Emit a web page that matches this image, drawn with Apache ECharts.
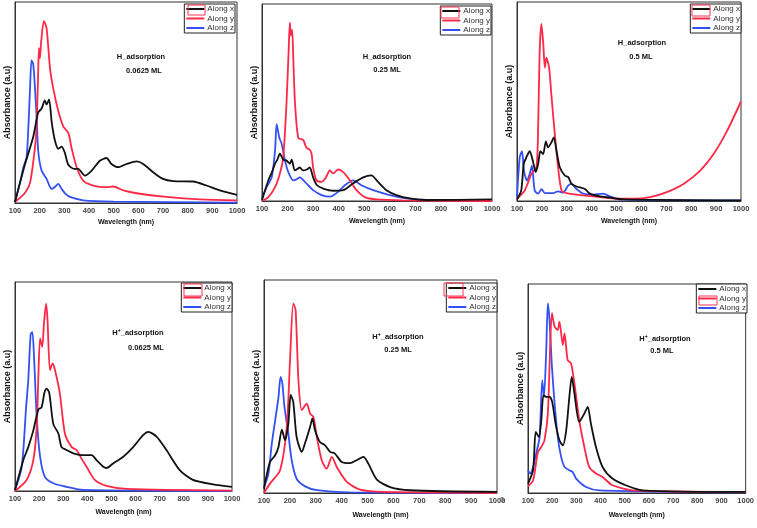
<!DOCTYPE html>
<html><head><meta charset="utf-8">
<script src="https://cdn.jsdelivr.net/npm/echarts/dist/echarts.min.js"></script>
<style>html,body{margin:0;padding:0;background:#fff}#c{width:757px;height:528px}</style>
</head><body><div id="c"></div><script>
// ---- data: [wavelength (nm), absorbance (a.u., 0-100 of panel height)] ----
const seriesNames = ['Along x', 'Along y', 'Along z'];
const xTicks = [100, 200, 300, 400, 500, 600, 700, 800, 900, 1000];
const panelTitles = ['H_adsorption', 'H_adsorption', 'H_adsorption', 'H\u207A_adsorption', 'H\u207A_adsorption', 'H\u207A_adsorption'];
const panelCoverages = ['0.0625 ML', '0.25 ML', '0.5 ML', '0.0625 ML', '0.25 ML', '0.5 ML'];

const h0625_x = [[100,0.5],[140,19],[174,33],[194,45],[208,47],[221,51],[228,49],[238,51.5],[249,40],[262,31],[276,27],[289,28],[302,25],[316,19],[340,17],[356,17],[383,13.6],[410,16],[444,21],[471,22.4],[491,19.4],[518,17.8],[552,19.4],[593,20.7],[620,19.4],[660,15.3],[700,12],[741,10.9],[822,10.7],[876,8.7],[930,6.3],[1000,4]];
const h0625_y = [[100,0.5],[140,5],[161,10],[181,27.6],[186,35],[193,60],[197,77],[201,72],[206,80],[217,90.5],[228,87],[242,67],[255,57],[275,46],[296,38],[316,35],[329,27.6],[350,17.8],[377,11],[417,8.7],[471,7.9],[498,8.2],[539,6.3],[606,4.6],[714,3],[849,1.8],[1000,1.3]];
const h0625_z = [[100,0.5],[120,10],[134,17.8],[147,22.7],[155,40],[161,57],[167,71],[174,69],[181,57],[188,42],[194,26],[208,16],[228,12],[248,7],[262,8],[275,9.5],[289,7],[305,4.5],[323,3],[377,1.3],[500,0.7],[1000,0.2]];

const h025_x = [[100,0.5],[125,10.5],[140,15],[151,19],[160,21],[170,24],[183,21],[196,20.5],[209,19],[216,21],[229,15.5],[248,17],[261,15.5],[275,16],[287,17],[300,12],[315,8],[340,6.3],[379,5.2],[418,5.5],[457,9],[496,12],[528,13],[554,9.7],[587,5.5],[626,3],[678,1.3],[743,0.5],[1000,0.8]];
const h025_y = [[100,0],[125,2],[151,7],[170,14],[183,22],[196,50],[205,79],[209,90.5],[213,84],[218,87],[223,70],[229,50],[242,32],[261,31],[274,27],[287,26],[294,24],[300,17],[313,10.5],[333,9.7],[350,12],[366,15.5],[379,14],[398,16],[418,14.7],[444,10.5],[470,5.5],[502,2],[548,0.8],[650,0.3],[1000,0]];
const h025_z = [[100,1.3],[118,7],[138,12],[151,25.5],[157,39],[162,36],[168,32],[177,29],[190,20.5],[203,14.7],[222,10.5],[235,11],[248,12],[268,9.7],[300,5.5],[333,3],[366,2.2],[398,4.7],[424,8],[457,10.5],[489,8],[535,5.5],[600,3],[665,1.3],[743,0.5],[1000,0.3]];

const h05_x = [[100,0.7],[117,5.3],[127,18.6],[138,22],[151,25],[164,20],[175,14.5],[185,18.6],[194,25],[205,23.6],[216,30],[225,27],[238,29.4],[248,32],[259,25],[272,17],[292,12.8],[306,12],[319,8.6],[339,7.3],[373,6],[393,3.7],[433,2.3],[474,1.7],[527,0.8],[1000,0.3]];
const h05_y = [[100,1.2],[131,5.3],[158,13.6],[178,17],[185,37],[191,75],[198,89],[205,80],[212,67],[218,72],[229,67],[238,53.5],[252,33.5],[265,17],[279,5.3],[299,4],[366,2.8],[433,2],[500,1.2],[568,1.2],[635,2],[702,4.5],[769,8.6],[836,15.3],[890,23.6],[943,35],[1000,50]];
const h05_z = [[100,2],[111,22],[120,25],[128,15.3],[140,10.3],[151,13.6],[160,17.8],[171,5.3],[185,3.7],[198,6],[212,4],[245,4],[265,4.8],[285,4.2],[306,7.8],[319,8.6],[339,6],[366,3.7],[406,3.2],[446,3.7],[474,2.3],[514,0.8],[1000,0.3]];

const hp0625_x = [[100,0.5],[135,15],[155,21],[176,29],[197,39],[210,40],[222,47],[231,49],[242,47],[259,32],[280,27.5],[293,21],[314,19.6],[342,18],[376,17.2],[418,17.2],[438,14.8],[466,11.6],[480,11],[507,13.2],[549,16.4],[590,21],[632,26.8],[653,28.3],[687,26],[728,19.6],[783,10],[838,5.3],[921,3.2],[1000,2]];
const hp0625_y = [[100,0],[148,5.3],[176,14.8],[190,30.7],[197,55],[204,73],[213,69],[220,80],[229,89.6],[235,81.7],[245,57.8],[256,61],[266,57.8],[286,46.7],[307,27.5],[335,21],[355,19.6],[376,15.5],[397,11.6],[431,5.3],[480,2.4],[563,1],[1000,0.2]];
const hp0625_z = [[100,0.5],[128,11.6],[146,40],[155,53],[165,75],[172,76],[179,64],[190,35.5],[204,16.4],[224,6.8],[259,3.7],[314,2],[383,0.5],[1000,0]];

const hp025_x = [[100,2],[123,14.6],[143,17.7],[156,21.6],[169,29.8],[181,24.8],[194,32.6],[203,46],[213,42.8],[226,26.3],[246,19.3],[258,23.2],[278,31],[287,35],[297,29.5],[316,24],[336,22.4],[355,19.3],[374,18.5],[400,14.6],[432,14],[458,15.4],[484,17],[503,13.8],[536,6.3],[587,2.8],[664,1.3],[1000,0.5]];
const hp025_y = [[100,0],[123,4.4],[162,10.7],[188,31],[200,60.8],[213,89],[222,86],[233,53],[246,38.9],[265,42],[278,37.3],[291,35.7],[304,26.3],[323,15.4],[342,11.4],[362,17],[381,12.2],[420,5.2],[471,1.6],[561,0.5],[1000,0]];
const hp025_z = [[100,2.8],[117,9],[130,23],[143,34],[156,45],[164,54.5],[171,51.4],[179,40.4],[194,27.9],[207,15.4],[226,6.7],[259,3.1],[304,1.3],[432,0.3],[1000,0]];

const hp05_x = [[100,4.5],[121,10.9],[132,29.2],[145,26.8],[155,34.8],[164,46.8],[175,46],[189,46],[200,43.6],[214,33.2],[230,25.2],[244,22.8],[258,30],[271,46],[281,55.6],[292,47.6],[312,34],[333,38],[347,41.2],[360,33.2],[381,22],[408,12.5],[449,6.9],[504,3.7],[573,1.3],[1000,0.5]];
const hp05_y = [[100,3.2],[121,6],[141,19.6],[155,22],[168,25.2],[182,38],[192,71.6],[199,86],[210,79.6],[223,78],[230,82],[244,70.8],[251,76.4],[264,63.6],[278,62],[292,52.4],[312,34.8],[333,22],[353,12.5],[381,9.3],[408,7.7],[449,3.7],[532,1.3],[1000,0.5]];
const hp05_z = [[100,10.9],[110,9.3],[121,12.5],[137,20.4],[148,26.8],[159,54],[166,46],[175,66.8],[182,90.7],[189,82.7],[199,60.4],[210,42.8],[223,26.8],[237,17.3],[251,12.5],[271,10.9],[285,10],[299,6.9],[340,2.9],[395,1.3],[1000,0.3]];

const panelData = [
  [h0625_x, h0625_y, h0625_z],
  [h025_x, h025_y, h025_z],
  [h05_x, h05_y, h05_z],
  [hp0625_x, hp0625_y, hp0625_z],
  [hp025_x, hp025_y, hp025_z],
  [hp05_x, hp05_y, hp05_z]
];

// ---- layout & style ----
const FONT = '"Liberation Sans", Arial, sans-serif';
const colors = ['#111111', '#ff2846', '#3350f5'];
const grids = [
  {left: 15, top: 2, right: 237, bottom: 203},
  {left: 262, top: 4, right: 492, bottom: 201},
  {left: 517, top: 2, right: 741, bottom: 201},
  {left: 15, top: 282, right: 232, bottom: 491},
  {left: 264, top: 280, right: 497, bottom: 493},
  {left: 528, top: 284, right: 747, bottom: 493}
];
const legendTops = [4, 6, 4, 283, 283, 284];
const legendRights = [235, 491, 741, 232, 497, 747];
const xNameGaps = [15.5, 16.5, 16.5, 17.5, 18.5, 18.5];
const titlePos = [
  [[141, 57], [144, 71]],
  [[387, 57], [387, 70]],
  [[642, 43], [641, 57]],
  [[138, 333], [146, 348]],
  [[398, 337], [398, 350]],
  [[665, 339], [662, 351]]
];
const artifactRects = [
  [188, 5, 17, 10], [441, 7, 18, 11], [692, 5, 18, 11],
  [184, 284, 18, 12], [444, 283, 19, 13], [699, 296, 18, 9]
];

const option = {
  animation: false,
  backgroundColor: '#fff',
  grid: [], xAxis: [], yAxis: [], series: [], legend: [], graphic: []
};

grids.forEach((g, i) => {
  option.grid.push({
    left: g.left, top: g.top, width: g.right - g.left, height: g.bottom - g.top,
    show: true, borderColor: '#333', borderWidth: 1, backgroundColor: 'transparent'
  });
  option.xAxis.push({
    gridIndex: i, type: 'value', min: xTicks[0], max: xTicks[xTicks.length - 1], interval: 100,
    axisLine: {lineStyle: {color: '#333', width: 1}}, axisTick: {show: false}, splitLine: {show: false},
    axisLabel: {fontSize: 7.5, fontWeight: 'bold', color: '#444', margin: 4, fontFamily: FONT,
      formatter: v => String(v)},
    name: 'Wavelength (nm)', nameLocation: 'middle', nameGap: xNameGaps[i],
    nameTextStyle: {fontSize: 7, fontWeight: 'bold', color: '#111', fontFamily: FONT}
  });
  option.yAxis.push({
    gridIndex: i, type: 'value', min: 0, max: 100,
    axisLine: {show: true, lineStyle: {color: '#333', width: 1}}, axisTick: {show: false},
    axisLabel: {show: false}, splitLine: {show: false},
    name: 'Absorbance (a.u)', nameLocation: 'middle', nameGap: 3,
    nameTextStyle: {fontSize: 9, fontWeight: 'bold', color: '#111', fontFamily: FONT}
  });
  panelData[i].forEach((d, k) => {
    option.series.push({
      type: 'line', name: seriesNames[k], xAxisIndex: i, yAxisIndex: i,
      data: d, showSymbol: false, smooth: 0.25, z: 3 - k + 2,
      lineStyle: {color: colors[k], width: 1.8}, itemStyle: {color: colors[k]}
    });
  });
  option.legend.push({
    orient: 'vertical', right: 757 - legendRights[i], top: legendTops[i],
    data: seriesNames, icon: 'rect', itemWidth: 18, itemHeight: 2, itemGap: 1.5,
    padding: [1, 1, 1, 2], borderColor: '#222', borderWidth: 1, backgroundColor: '#fff',
    selectedMode: false,
    textStyle: {fontSize: 8, color: '#333', fontFamily: FONT, padding: [0, 0, 0, -2]}
  });
  const tp = titlePos[i];
  option.graphic.push({
    type: 'text', x: tp[0][0], y: tp[0][1], z: 10,
    style: {text: panelTitles[i], fill: '#111', font: 'bold 7.5px ' + FONT, align: 'center', verticalAlign: 'middle'}
  });
  option.graphic.push({
    type: 'text', x: tp[1][0], y: tp[1][1], z: 10,
    style: {text: panelCoverages[i], fill: '#111', font: 'bold 7.5px ' + FONT, align: 'center', verticalAlign: 'middle'}
  });
  const r = artifactRects[i];
  option.graphic.push({
    type: 'rect', z: 100, shape: {x: r[0], y: r[1], width: r[2], height: r[3]},
    style: {fill: 'none', stroke: '#ff3355', lineWidth: 1}
  });
});
option.graphic.push({
  type: 'text', x: 502, y: 500, z: 10,
  style: {text: '0', font: 'bold 7.5px ' + FONT, fill: '#666', align: 'center', verticalAlign: 'middle'}
});

const chart = echarts.init(document.getElementById('c'), null, {renderer: 'canvas'});
chart.setOption(option);
</script></body></html>
